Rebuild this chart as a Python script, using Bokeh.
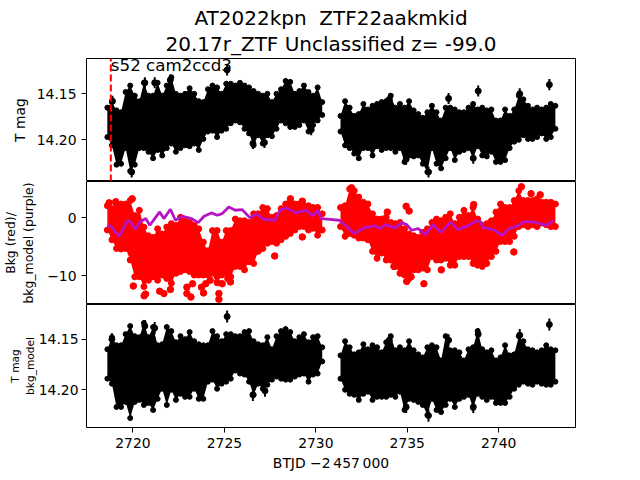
from bokeh.embed import file_html
from bokeh.resources import INLINE
from bokeh.layouts import column
from bokeh.models import ColumnDataSource, FixedTicker, Range1d, Title
from bokeh.plotting import figure
from bokeh.core.properties import value

FONT = "DejaVu Sans"

# shared time grid (BTJD - 2457000) of the two observing stretches
T1 = [2718.60, 2718.85, 2719.10, 2719.35, 2719.60, 2719.85, 2720.10, 2720.35, 2720.60, 2720.85, 2721.10, 2721.35,
      2721.60, 2721.85, 2722.10, 2722.35, 2722.60, 2722.85, 2723.10, 2723.35, 2723.60, 2723.85, 2724.10, 2724.35,
      2724.60, 2724.85, 2725.10, 2725.35, 2725.60, 2725.85, 2726.10, 2726.35, 2726.60, 2726.85, 2727.10, 2727.35,
      2727.60, 2727.85, 2728.10, 2728.35, 2728.60, 2728.85, 2729.10, 2729.35, 2729.60, 2729.85, 2730.10, 2730.35]
T2 = [2731.35, 2731.60, 2731.85, 2732.10, 2732.35, 2732.60, 2732.85, 2733.10, 2733.35, 2733.60, 2733.85, 2734.10,
      2734.35, 2734.60, 2734.85, 2735.10, 2735.35, 2735.60, 2735.85, 2736.10, 2736.35, 2736.60, 2736.85, 2737.10,
      2737.35, 2737.60, 2737.85, 2738.10, 2738.35, 2738.60, 2738.85, 2739.10, 2739.35, 2739.60, 2739.85, 2740.10,
      2740.35, 2740.60, 2740.85, 2741.10, 2741.35, 2741.60, 2741.85, 2742.10, 2742.35, 2742.60, 2742.85, 2743.10]

# T mag: upper and lower edge of the photometry band
MAG_HI_1 = [14.165, 14.159, 14.168, 14.170, 14.148, 14.141, 14.152, 14.158, 14.138, 14.152, 14.152, 14.138,
            14.152, 14.141, 14.132, 14.150, 14.152, 14.150, 14.144, 14.150, 14.158, 14.159, 14.145, 14.141,
            14.143, 14.150, 14.139, 14.139, 14.141, 14.138, 14.141, 14.143, 14.147, 14.150, 14.152, 14.150,
            14.159, 14.150, 14.145, 14.136, 14.137, 14.150, 14.147, 14.141, 14.148, 14.152, 14.143, 14.159]
MAG_LO_1 = [14.197, 14.206, 14.227, 14.226, 14.209, 14.234, 14.227, 14.209, 14.209, 14.213, 14.220, 14.211,
            14.217, 14.209, 14.204, 14.213, 14.209, 14.206, 14.207, 14.204, 14.211, 14.199, 14.191, 14.190,
            14.197, 14.190, 14.188, 14.182, 14.179, 14.181, 14.188, 14.193, 14.206, 14.195, 14.204, 14.195,
            14.196, 14.188, 14.179, 14.182, 14.186, 14.186, 14.184, 14.179, 14.191, 14.184, 14.179, 14.173]
MAG_HI_2 = [14.174, 14.158, 14.165, 14.174, 14.172, 14.161, 14.167, 14.163, 14.161, 14.159, 14.158, 14.152,
            14.165, 14.161, 14.165, 14.158, 14.168, 14.172, 14.176, 14.170, 14.163, 14.170, 14.179, 14.165,
            14.165, 14.167, 14.170, 14.170, 14.165, 14.161, 14.167, 14.165, 14.168, 14.167, 14.179, 14.179,
            14.167, 14.174, 14.167, 14.152, 14.156, 14.163, 14.167, 14.165, 14.167, 14.165, 14.161, 14.163]
MAG_LO_2 = [14.191, 14.206, 14.209, 14.215, 14.220, 14.209, 14.209, 14.217, 14.207, 14.211, 14.209, 14.209,
            14.213, 14.209, 14.224, 14.217, 14.218, 14.217, 14.226, 14.235, 14.209, 14.226, 14.231, 14.220,
            14.209, 14.222, 14.213, 14.211, 14.209, 14.220, 14.207, 14.217, 14.218, 14.213, 14.224, 14.224,
            14.222, 14.209, 14.202, 14.200, 14.195, 14.199, 14.199, 14.197, 14.193, 14.199, 14.197, 14.188]
MAG_OUT_T = [2725.15, 2738.88, 2742.77, 2718.88, 2729.75, 2726.56, 2727.19, 2737.26, 2734.02, 2734.94, 2738.61,
             2736.16, 2741.15, 2720.65, 2721.19, 2722.04, 2719.93]
MAG_OUT_V = [14.124, 14.147, 14.140, 14.158, 14.189, 14.204, 14.203, 14.155, 14.156, 14.221, 14.220,
             14.235, 14.150, 14.138, 14.138, 14.135, 14.235]

# background flux: upper and lower edge of the red band
BKG_HI_1 = [2.1, 1.6, 2.4, 2.4, 2.4, 3.0, 0.4, 1.3, -1.6, -3.1, -3.4, -1.9, -2.8, -1.6, -1.0, -1.3, 0.1, -0.5, -0.8, -1.3,
            -1.9, -4.2, -5.7, -2.2, -2.2, -4.2, -2.2, -2.2, -0.2, -0.5, -0.5, -0.8, 0.7, 0.7, 1.8, 1.6, 0.1, 0.4, 1.6, 2.4,
            2.7, 2.4, 2.4, 2.1, 2.1, 1.8, 1.8, 0.7]
BKG_LO_1 = [-2.1, -3.8, -5.3, -5.4, -5.3, -7.3, -10.2, -10.2, -11.9, -10.8, -10.2, -10.8, -9.9, -10.5, -11.3, -9.6, -9.3,
            -9.0, -9.3, -9.9, -9.9, -9.9, -9.9, -9.6, -10.2, -9.9, -9.6, -10.2, -8.4, -8.4, -9.0, -7.6, -7.9, -5.8, -5.3,
            -4.4, -4.1, -4.4, -3.8, -3.2, -2.7, -2.1, -1.5, -1.5, -2.1, -1.8, -3.0, -2.1]
BKG_HI_2 = [1.8, 2.1, 5.0, 4.7, 3.6, 2.7, 2.4, 0.7, -0.2, -0.2, 0.1, -0.8, -1.0, -0.8, -1.9, -2.8, -3.1, -3.4, -2.5, -1.9,
            -0.8, -0.2, -0.5, 0.1, 0.7, -1.0, 0.1, 1.3, 0.4, 1.8, -0.2, -1.3, -1.0, -0.5, 1.0, 2.4, 1.8, 1.8, 3.0, 4.7,
            3.0, 3.0, 3.0, 3.3, 2.7, 2.7, 2.7, 2.4]
BKG_LO_2 = [-1.5, -3.2, -2.7, -3.0, -3.5, -3.5, -3.8, -5.8, -7.0, -6.1, -7.3, -7.3, -8.4, -9.6, -9.9, -10.5, -9.0, -9.0,
            -8.7, -9.0, -6.7, -7.3, -7.3, -7.0, -8.2, -8.2, -6.7, -6.7, -6.7, -7.9, -8.2, -8.4, -7.9, -6.7, -5.8, -4.1,
            -4.1, -4.1, -3.2, -1.5, -1.2, -1.5, -1.2, -1.5, -0.9, -1.2, -1.5, -1.5]
BKG_PTS_T = [2720.02, 2720.61, 2720.69, 2721.46, 2721.69, 2722.05, 2722.95, 2722.95, 2723.17, 2723.26, 2723.75, 2723.86,
             2723.98, 2724.22, 2724.61, 2724.70, 2724.70, 2724.88, 2725.19, 2725.33, 2729.26, 2727.75, 2719.96, 2719.06,
             2718.70, 2728.61, 2729.26, 2734.94, 2735.10, 2733.91, 2734.27, 2735.91, 2740.83, 2736.86, 2738.63, 2741.77,
             2742.27, 2731.95, 2741.24, 2734.97, 2735.21]
BKG_PTS_V = [-11.8, -13.5, -13.2, -12.7, -13.1, -12.4, -12.0, -13.1, -13.7, -11.4, -12.0, -13.0,
             -11.4, -10.8, -11.2, -13.1, -14.1, -11.4, -10.5, -11.1, -3.3, -6.6, 3.3, 2.8,
             2.6, 3.3, 2.9, 2.0, 1.2, 1.0, -8.4, -11.4, -5.9, -9.0, 2.3, 4.2,
             4.0, 5.2, 5.4, -11.0, -10.2]

# background model (purple)
MODEL_T = [2718.60, 2718.85, 2719.03, 2719.26, 2719.48, 2719.66, 2719.84, 2720.11, 2720.38, 2720.70, 2720.92, 2721.19,
           2721.46, 2721.69, 2722.05, 2722.32, 2722.72, 2723.21, 2723.57, 2723.89, 2724.29, 2724.61, 2724.88, 2725.24,
           2725.60, 2725.96, 2726.41, 2726.77, 2727.13, 2727.77, 2728.04, 2728.40, 2728.85, 2729.48, 2729.84, 2730.11,
           2730.29, 2730.92, 2731.28, 2731.73, 2732.09, 2732.63, 2733.26, 2733.53, 2733.80, 2734.34, 2734.70, 2734.97,
           2735.24, 2735.60, 2736.00, 2736.41, 2736.83, 2737.37, 2737.77, 2738.31, 2738.76, 2739.03, 2739.12, 2739.66,
           2740.20, 2740.56, 2741.10, 2741.37, 2741.91, 2742.63, 2742.99]
MODEL_V = [-1.28, -1.57, -2.43, -3.13, -1.86, -0.53, -0.58, -1.97, -0.70, -0.12, -1.28, -0.12,
           1.03, -0.12, 1.50, -0.41, 0.28, -0.12, -0.82, 0.28, 0.86, 0.46, 0.74, 1.90,
           1.32, 1.44, 0.00, 0.74, -0.24, -0.41, 1.32, 1.73, 0.92, 1.32, 0.34, 1.32,
           -0.12, -0.30, -0.41, -1.57, -2.72, -1.74, -1.39, -1.86, -1.16, -1.74, -0.82, -1.16,
           -2.14, -1.86, -2.90, -1.16, -2.55, -0.70, -2.03, -1.39, -0.53, -0.70, -1.68, -1.97,
           -3.01, -1.86, -1.28, -0.70, -0.70, -1.28, -0.41]

# T mag minus background model
SUB_HI_1 = [14.160, 14.148, 14.156, 14.156, 14.145, 14.137, 14.147, 14.148, 14.134, 14.148, 14.138, 14.156,
            14.155, 14.138, 14.142, 14.153, 14.147, 14.150, 14.143, 14.152, 14.155, 14.156, 14.156, 14.142,
            14.147, 14.152, 14.145, 14.145, 14.147, 14.147, 14.143, 14.142, 14.152, 14.155, 14.156, 14.148,
            14.160, 14.147, 14.142, 14.140, 14.143, 14.152, 14.148, 14.145, 14.153, 14.148, 14.147, 14.158]
SUB_LO_1 = [14.189, 14.194, 14.217, 14.217, 14.212, 14.228, 14.212, 14.210, 14.215, 14.213, 14.220, 14.209,
            14.199, 14.215, 14.200, 14.210, 14.204, 14.207, 14.207, 14.199, 14.209, 14.209, 14.192, 14.190,
            14.199, 14.194, 14.192, 14.189, 14.181, 14.184, 14.185, 14.192, 14.205, 14.194, 14.199, 14.195,
            14.190, 14.187, 14.189, 14.190, 14.190, 14.187, 14.185, 14.184, 14.192, 14.185, 14.184, 14.172]
SUB_HI_2 = [14.166, 14.152, 14.158, 14.165, 14.163, 14.155, 14.160, 14.156, 14.158, 14.163, 14.153, 14.147,
            14.161, 14.158, 14.161, 14.152, 14.161, 14.165, 14.168, 14.158, 14.156, 14.158, 14.171, 14.147,
            14.161, 14.161, 14.163, 14.171, 14.160, 14.158, 14.142, 14.160, 14.163, 14.161, 14.171, 14.168,
            14.156, 14.166, 14.165, 14.147, 14.152, 14.160, 14.161, 14.163, 14.161, 14.156, 14.160, 14.161]
SUB_LO_2 = [14.189, 14.200, 14.204, 14.205, 14.210, 14.204, 14.202, 14.210, 14.207, 14.207, 14.207, 14.205,
            14.207, 14.202, 14.220, 14.209, 14.210, 14.212, 14.215, 14.225, 14.209, 14.220, 14.222, 14.215,
            14.209, 14.217, 14.209, 14.207, 14.205, 14.218, 14.204, 14.207, 14.210, 14.207, 14.213, 14.213,
            14.213, 14.207, 14.199, 14.195, 14.192, 14.194, 14.195, 14.192, 14.194, 14.195, 14.195, 14.192]
SUB_OUT_T = [2725.15, 2718.85, 2720.65, 2721.19, 2726.56, 2727.22, 2742.77, 2738.88, 2737.26, 2741.15, 2734.94,
             2738.61, 2736.16, 2734.02]
SUB_OUT_V = [14.1276, 14.150, 14.137, 14.139, 14.205, 14.201, 14.1355, 14.145, 14.151, 14.146, 14.217,
             14.217, 14.2255, 14.151]
ERR = 0.006

SECTOR_T = 2718.79
SECTOR_LABEL = "s52 cam2ccd3"
TITLE_1 = "AT2022kpn \u00a0ZTF22aakmkid"
TITLE_2 = "20.17r_ZTF Unclassified z= -99.0"
X_TICKS = [2720, 2725, 2730, 2735, 2740]
MAG_TICKS = [14.15, 14.20]
MAG_TICK_LABELS = ["14.15", "14.20"]
BKG_TICKS = [0, -10]
BKG_TICK_LABELS = ["0", "\u221210"]
XLABEL = "BTJD \u22122\u2009457\u2009000"
YLABEL_1 = "T mag"
YLABEL_2 = "Bkg (red)/\nbkg_model (purple)"
YLABEL_3 = "T mag\nbkg_model"

x_range = Range1d(2717.46, 2744.2)


def panel(height, y_range, ylabel, standoff, top=0, bottom=0, label_size="13.9px"):
    p = figure(width=640, height=height, x_range=x_range, y_range=y_range, output_backend="svg",
               toolbar_location=None, min_border_left=81, min_border_right=65,
               min_border_top=top, min_border_bottom=bottom)
    p.grid.visible = False
    p.outline_line_color = "black"
    p.outline_line_width = 1
    p.background_fill_color = "white"
    p.border_fill_color = None
    for ax in [p.xaxis[0], p.yaxis[0]]:
        ax.axis_line_color = None
        ax.major_tick_line_color = "black"
        ax.major_tick_line_width = 1
        ax.major_tick_in = 0
        ax.major_tick_out = 5
        ax.minor_tick_line_color = None
        ax.major_label_text_color = "black"
        ax.major_label_text_font = FONT
        ax.major_label_text_font_size = "13.9px"
        ax.axis_label_text_font = FONT
        ax.axis_label_text_font_size = "13.9px"
        ax.axis_label_text_font_style = "normal"
        ax.axis_label_text_color = "black"
    p.yaxis[0].axis_label = ylabel
    p.yaxis[0].axis_label_standoff = standoff
    p.yaxis[0].axis_label_text_font_size = label_size
    return p


def band(p, t, lo, hi, color, size):
    src = ColumnDataSource(dict(t=t, lo=lo, hi=hi))
    p.varea("t", "lo", "hi", source=src, fill_color=color)
    p.scatter("t", "lo", source=src, size=size, color=color)
    p.scatter("t", "hi", source=src, size=size, color=color)


def outliers(p, t, v):
    src = ColumnDataSource(dict(t=t, v=v, lo=[a - ERR for a in v], hi=[a + ERR for a in v]))
    p.segment("t", "lo", "t", "hi", source=src, line_color="black", line_width=2)
    p.scatter("t", "v", source=src, size=6, color="black")


# ---- top: T mag
p1 = panel(181, Range1d(14.2453, 14.1116), YLABEL_1, 6, top=58)
p1.xaxis.visible = False
p1.yaxis[0].ticker = FixedTicker(ticks=MAG_TICKS)
p1.yaxis[0].major_label_overrides = dict(zip(MAG_TICKS, MAG_TICK_LABELS))
band(p1, T1, MAG_LO_1, MAG_HI_1, "black", 5)
band(p1, T2, MAG_LO_2, MAG_HI_2, "black", 5)
outliers(p1, MAG_OUT_T, MAG_OUT_V)
p1.segment(x0=[SECTOR_T], y0=[14.2453], x1=[SECTOR_T], y1=[14.1116], line_color="red", line_width=2, line_dash="7 3")
p1.text(x=[SECTOR_T], y=[14.119], text=[SECTOR_LABEL], text_font=value(FONT), text_font_size="16.7px",
        text_color="black", text_baseline="alphabetic", text_align="left")
p1.add_layout(Title(text=TITLE_2, align="center", text_font=FONT, text_font_size="20px", text_font_style="normal",
                    text_color="black", standoff=6, text_line_height=1.0), "above")
p1.add_layout(Title(text=TITLE_1, align="center", text_font=FONT, text_font_size="20px", text_font_style="normal",
                    text_color="black", standoff=-6, text_line_height=1.0), "above")

# ---- middle: background
p2 = panel(123, Range1d(-15.0, 6.3), YLABEL_2, 8, label_size="12.4px")
p2.xaxis.visible = False
p2.yaxis[0].ticker = FixedTicker(ticks=BKG_TICKS)
p2.yaxis[0].major_label_overrides = dict(zip(BKG_TICKS, BKG_TICK_LABELS))
band(p2, T1, BKG_LO_1, BKG_HI_1, "red", 6)
band(p2, T2, BKG_LO_2, BKG_HI_2, "red", 6)
p2.scatter(BKG_PTS_T, BKG_PTS_V, size=6.5, color="red")
p2.line(MODEL_T, MODEL_V, line_color="#b513c4", line_width=2.8)

# ---- bottom: T mag minus background model
p3 = panel(176, Range1d(14.2373, 14.1157), YLABEL_3, 0, bottom=53, label_size="10.6px")
p3.xaxis[0].ticker = FixedTicker(ticks=X_TICKS)
p3.xaxis[0].major_label_overrides = {t: str(t) for t in X_TICKS}
p3.xaxis[0].axis_label = XLABEL
p3.xaxis[0].axis_label_standoff = 4
p3.yaxis[0].ticker = FixedTicker(ticks=MAG_TICKS)
p3.yaxis[0].major_label_overrides = dict(zip(MAG_TICKS, MAG_TICK_LABELS))
p3.yaxis[0].major_label_standoff = 3
band(p3, T1, SUB_LO_1, SUB_HI_1, "black", 5)
band(p3, T2, SUB_LO_2, SUB_HI_2, "black", 5)
outliers(p3, SUB_OUT_T, SUB_OUT_V)

page = column(p1, p2, p3, spacing=0)
open("out.html", "w").write(file_html(page, INLINE))
